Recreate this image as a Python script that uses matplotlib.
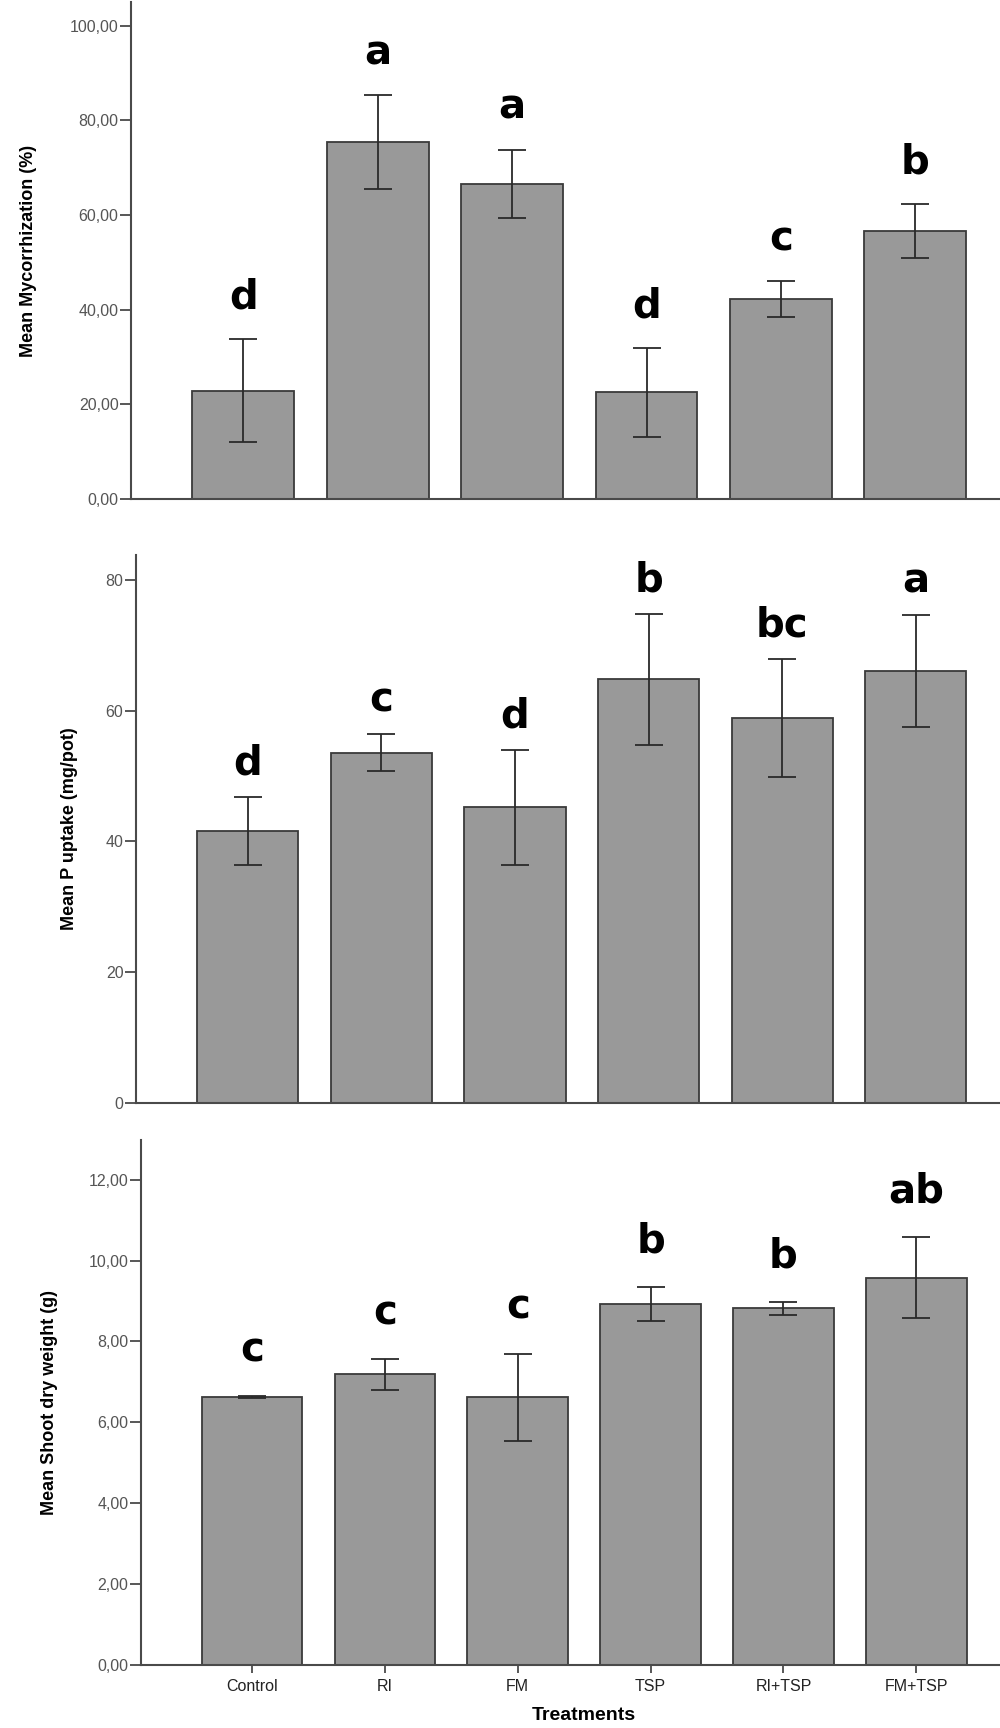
import numpy as np
import matplotlib
matplotlib.use("Agg")
import matplotlib.pyplot as plt
from matplotlib.ticker import FuncFormatter

# ---- data ----
treatments = ["Control", "RI", "FM", "TSP", "RI+TSP", "FM+TSP"]

myc_mean = [22.9, 75.5, 66.6, 22.6, 42.2, 56.7]
myc_err = [10.85, 9.95, 7.25, 9.4, 3.8, 5.7]
myc_letters = ["d", "a", "a", "d", "c", "b"]

p_mean = [41.6, 53.6, 45.2, 64.8, 58.9, 66.1]
p_err = [5.2, 2.85, 8.75, 10.0, 9.0, 8.6]
p_letters = ["d", "c", "d", "b", "bc", "a"]

shoot_mean = [6.62, 7.19, 6.62, 8.92, 8.82, 9.58]
shoot_err = [0.02, 0.38, 1.08, 0.42, 0.16, 1.0]
shoot_letters = ["c", "c", "c", "b", "b", "ab"]

BAR = "#999999"
EDGE = "#3a3a3a"
AXC = "#4a4a4a"
TICKC = "#555555"
SANS = ["Liberation Sans", "DejaVu Sans"]

fig = plt.figure(figsize=(10, 17.28), dpi=100)

panels = [
    # rect, means, errs, letters, ylabel, yticks, ylim, fmt, label_x(px), letter gap(pt)
    ([0.131, 0.7112, 0.869, 0.2876], myc_mean, myc_err, myc_letters,
     "Mean Mycorrhization (%)", np.arange(0, 101, 20), 105, "{:.2f}", 37, 22),
    ([0.136, 0.3617, 0.864, 0.3171], p_mean, p_err, p_letters,
     "Mean P uptake (mg/pot)", np.arange(0, 81, 20), 83.8, "{:.0f}", 78, 16),
    ([0.141, 0.03646, 0.859, 0.3038], shoot_mean, shoot_err, shoot_letters,
     "Mean Shoot dry weight (g)", np.arange(0, 13, 2), 12.98, "{:.2f}", 58, 25),
]

x = np.arange(len(treatments))

for i, (rect, means, errs, letters, ylabel, yticks, ytop, fmt, lab_x, gap) in enumerate(panels):
    ax = fig.add_axes(rect)
    ax.bar(x, means, width=0.757, color=BAR, edgecolor=EDGE, linewidth=1.3, zorder=2)
    ax.errorbar(x, means, yerr=errs, fmt="none", ecolor="#2a2a2a",
                elinewidth=1.3, capsize=10, capthick=1.3, zorder=3)
    for xi, m, e, lt in zip(x, means, errs, letters):
        ax.annotate(lt, (xi, m + e), xytext=(0, gap), textcoords="offset points",
                    ha="center", va="baseline", fontsize=29, fontweight="bold",
                    family="DejaVu Sans", color="black")

    ax.set_xlim(-0.836, 5.63)
    ax.set_ylim(0, ytop)
    ax.set_yticks(yticks)
    ax.yaxis.set_major_formatter(FuncFormatter(lambda v, p, f=fmt: f.format(v).replace(".", ",")))
    for s in ["top", "right"]:
        ax.spines[s].set_visible(False)
    for s in ["left", "bottom"]:
        ax.spines[s].set_color(AXC)
        ax.spines[s].set_linewidth(1.5)
    ax.tick_params(axis="y", length=8, width=1.3, color=AXC, pad=1,
                   labelsize=11.5, labelcolor=TICKC)
    for t in ax.get_yticklabels():
        t.set_family(SANS)

    ax.set_ylabel(ylabel, fontsize=13, fontweight="bold", family=SANS)
    fig_w = rect[2] * 1000
    ax.yaxis.set_label_coords((lab_x - rect[0] * 1000) / fig_w, 0.5)

    if i < 2:
        ax.set_xticks([])
    else:
        ax.set_xticks(x)
        ax.set_xticklabels(treatments)
        ax.tick_params(axis="x", length=6, width=1.3, color=AXC, pad=4,
                       labelsize=11.5, labelcolor="#222222")
        for t in ax.get_xticklabels():
            t.set_family(SANS)

fig.text(0.584, 1 - 1715 / 1728, "Treatments", ha="center", va="center",
         fontsize=14, fontweight="bold", family=SANS)

fig.savefig("out.png", dpi=100)
